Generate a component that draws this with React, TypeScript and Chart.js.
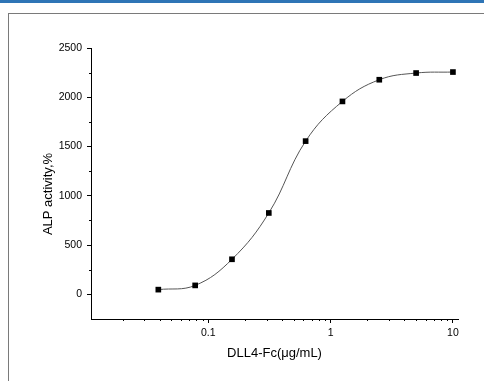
import React, { useEffect, useRef } from "react";
import { Chart, registerables } from "chart.js";

Chart.register(...registerables);

// Concentrations (µg/mL), 2-fold serial dilution
const CONCENTRATIONS = [0.0390625, 0.078125, 0.15625, 0.3125, 0.625, 1.25, 2.5, 5, 10];
// ALP activity, %
const ALP_ACTIVITY = [48, 91, 356, 826, 1555, 1958, 2178, 2246, 2256];

const X_TICKS = [
  0.02, 0.03, 0.04, 0.05, 0.06, 0.07, 0.08, 0.09,
  0.1, 0.2, 0.3, 0.4, 0.5, 0.6, 0.7, 0.8, 0.9,
  1, 2, 3, 4, 5, 6, 7, 8, 9, 10,
];
const X_LABELED = [0.1, 1, 10];
const X_MIN = 0.011;
const X_MAX = 11;

const Y_MIN = -250;
const Y_MAX = 2500;
const Y_STEP = 250;
const Y_LABEL_STEP = 500;

const X_TITLE = "DLL4-Fc(μg/mL)";
const Y_TITLE = "ALP activity,%";

const FONT = "'Liberation Sans', Arial, sans-serif";

const isXMajor = (v: number) => X_LABELED.some((m) => Math.abs(m - v) < 1e-9);
const isYMajor = (v: number) => v >= 0 && v % Y_LABEL_STEP === 0;

const extrasPlugin = {
  id: "extras",
  afterDraw(chart: any) {
    const { ctx } = chart;
    const xs = chart.scales.x;
    const ys = chart.scales.y;
    ctx.save();
    ctx.strokeStyle = "#000";
    ctx.lineWidth = 1;
    ctx.beginPath();
    xs.ticks.forEach((t: any) => {
      if (isXMajor(t.value)) return;
      const px = Math.round(xs.getPixelForValue(t.value)) + 0.5;
      ctx.moveTo(px, xs.top);
      ctx.lineTo(px, xs.top + 2);
    });
    ys.ticks.forEach((t: any) => {
      if (isYMajor(t.value) || t.value <= Y_MIN) return;
      const py = Math.round(ys.getPixelForValue(t.value)) + 0.5;
      ctx.moveTo(ys.right, py);
      ctx.lineTo(ys.right - 2, py);
    });
    ctx.stroke();
    ctx.fillStyle = "#000";
    ctx.font = `13px ${FONT}`;
    ctx.textAlign = "center";
    ctx.textBaseline = "middle";
    ctx.translate(48.5, 194);
    ctx.rotate(-Math.PI / 2);
    ctx.fillText(Y_TITLE, 0, 0);
    ctx.restore();
  },
};

export default function App() {
  const ref = useRef<HTMLCanvasElement>(null);

  useEffect(() => {
    if (!ref.current) return;
    const chart = new Chart(ref.current, {
      type: "line",
      data: {
        datasets: [
          {
            data: CONCENTRATIONS.map((x, i) => ({ x, y: ALP_ACTIVITY[i] })),
            borderColor: "#555",
            borderWidth: 1,
            tension: 0.4,
            pointStyle: "rect",
            pointRadius: 4,
            pointBorderWidth: 0,
            pointBackgroundColor: "#000",
            fill: false,
          },
        ],
      },
      options: {
        animation: false,
        responsive: false,
        devicePixelRatio: 1,
        layout: { padding: { left: 0, top: 48, right: 26, bottom: 0 } },
        plugins: {
          legend: { display: false },
          tooltip: { enabled: false },
        },
        scales: {
          x: {
            type: "logarithmic",
            min: X_MIN,
            max: X_MAX,
            afterBuildTicks: (s: any) => {
              s.ticks = X_TICKS.map((v) => ({ value: v, major: isXMajor(v) }));
            },
            afterFit: (s: any) => {
              s.height = 62;
            },
            ticks: {
              autoSkip: false,
              maxRotation: 0,
              padding: 4,
              color: "#000",
              font: { family: FONT, size: 10.5 },
              callback: (v: any) => (isXMajor(Number(v)) ? String(Number(v)) : ""),
            },
            grid: {
              drawOnChartArea: false,
              drawTicks: true,
              tickLength: 4,
              tickColor: (c: any) => (c.tick && isXMajor(c.tick.value) ? "#000" : "rgba(0,0,0,0)"),
            },
            border: { display: true, color: "#000", width: 1 },
            title: {
              display: true,
              text: X_TITLE,
              color: "#000",
              font: { family: FONT, size: 13 },
              padding: { top: 0, bottom: 20 },
            },
          },
          y: {
            min: Y_MIN,
            max: Y_MAX,
            afterFit: (s: any) => {
              s.width = 91;
            },
            ticks: {
              stepSize: Y_STEP,
              autoSkip: false,
              padding: 5,
              color: "#000",
              font: { family: FONT, size: 10.5 },
              callback: (v: any) => (isYMajor(Number(v)) ? String(v) : ""),
            },
            grid: {
              drawOnChartArea: false,
              drawTicks: true,
              tickLength: 4,
              tickColor: (c: any) => (c.tick && isYMajor(c.tick.value) ? "#000" : "rgba(0,0,0,0)"),
            },
            border: { display: true, color: "#000", width: 1 },
          },
        },
      },
      plugins: [extrasPlugin],
    } as any);
    return () => chart.destroy();
  }, []);

  return (
    <div style={{ position: "fixed", left: 0, top: 0, width: 484, height: 381, overflow: "hidden", background: "#fff" }}>
      <div style={{ position: "absolute", left: 0, top: 0, width: 484, height: 3, background: "#2E75B6" }} />
      <div
        style={{
          position: "absolute",
          left: 8,
          top: 13,
          width: 520,
          height: 420,
          borderLeft: "1px solid #7a7a7a",
          borderTop: "1px solid #7a7a7a",
        }}
      />
      <canvas ref={ref} width={484} height={381} style={{ position: "absolute", left: 0, top: 0, width: 484, height: 381 }} />
    </div>
  );
}
